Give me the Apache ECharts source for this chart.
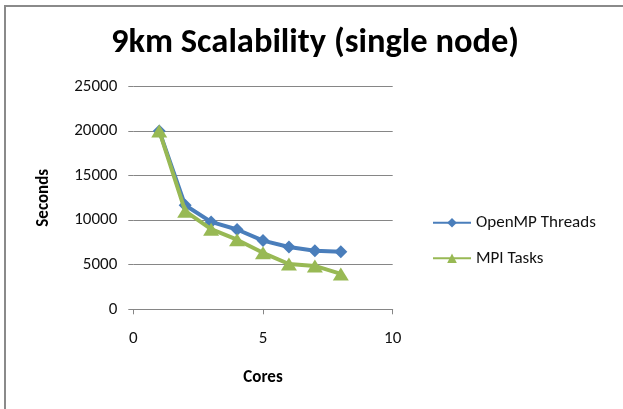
<!DOCTYPE html>
<html>
<head>
<meta charset="utf-8">
<script src="https://cdn.jsdelivr.net/npm/echarts@6/dist/echarts.min.js"></script>
<style>
html,body{margin:0;padding:0;background:#fff;}
#chart{width:623px;height:409px;}
</style>
</head>
<body>
<div id="chart"></div>
<script>
const cores = [1, 2, 3, 4, 5, 6, 7, 8];
const openmpThreads = [20000, 11660, 9800, 8950, 7700, 6980, 6560, 6450];
const mpiTasks = [20000, 11000, 8980, 7800, 6330, 5080, 4860, 3970];
const seriesNames = ['OpenMP Threads', 'MPI Tasks'];
const titleText = '9km Scalability (single node)';
const xAxisTitle = 'Cores';
const yAxisTitle = 'Seconds';

const FONT = 'Carlito, Lato, "DejaVu Sans", sans-serif';
const chart = echarts.init(document.getElementById('chart'), null, {renderer: 'canvas'});
const pair = (ys) => cores.map((c, i) => [c, ys[i]]);

chart.setOption({
  animation: false,
  backgroundColor: '#ffffff',
  graphic: [{
    type: 'rect',
    shape: {x: 5, y: 6, width: 700, height: 500},
    style: {fill: 'none', stroke: '#8a8a8a', lineWidth: 2},
    z: -1
  }],
  title: {
    text: titleText,
    left: 315,
    textAlign: 'center',
    top: 26,
    padding: 0,
    textStyle: {fontFamily: FONT, fontWeight: 'bold', fontSize: 34.5, color: '#000'}
  },
  grid: {left: 133.3, right: 230.3, top: 86.3, bottom: 99.7, containLabel: false},
  legend: {
    orient: 'vertical',
    left: 432,
    top: 213.7,
    padding: 0,
    itemWidth: 38,
    itemHeight: 12,
    itemGap: 17.6,
    textStyle: {fontFamily: FONT, fontSize: 17, color: '#111', lineHeight: 18},
    data: seriesNames
  },
  xAxis: {
    type: 'value',
    min: 0, max: 10, interval: 5,
    name: xAxisTitle,
    nameLocation: 'middle',
    nameGap: 60,
    nameTextStyle: {fontFamily: FONT, fontWeight: 'bold', fontSize: 17, color: '#000'},
    axisLine: {show: true, lineStyle: {color: '#868686', width: 1}},
    axisTick: {show: true, length: 5, lineStyle: {color: '#868686'}},
    axisLabel: {margin: 21, fontFamily: FONT, fontSize: 17, color: '#111'},
    splitLine: {show: false}
  },
  yAxis: {
    type: 'value',
    min: 0, max: 25000, interval: 5000,
    name: yAxisTitle,
    nameLocation: 'middle',
    nameGap: 81,
    nameTextStyle: {fontFamily: FONT, fontWeight: 'bold', fontSize: 17, color: '#000'},
    axisLine: {show: false},
    axisTick: {show: true, length: 5, lineStyle: {color: '#868686'}},
    axisLabel: {margin: 16, fontFamily: FONT, fontSize: 17, color: '#111', formatter: (v) => String(v)},
    splitLine: {show: true, lineStyle: {color: '#868686', width: 1}}
  },
  series: [
    {
      name: seriesNames[0],
      type: 'line',
      data: pair(openmpThreads),
      symbol: 'diamond',
      symbolSize: [13, 13],
      color: '#4A7EBB',
      lineStyle: {width: 4, color: '#4A7EBB'},
      itemStyle: {color: '#4A7EBB'},
      z: 2
    },
    {
      name: seriesNames[1],
      type: 'line',
      data: pair(mpiTasks),
      symbol: 'triangle',
      symbolSize: [16, 13],
      color: '#98B954',
      lineStyle: {width: 4, color: '#98B954'},
      itemStyle: {color: '#98B954'},
      z: 3
    }
  ]
});
</script>
</body>
</html>
